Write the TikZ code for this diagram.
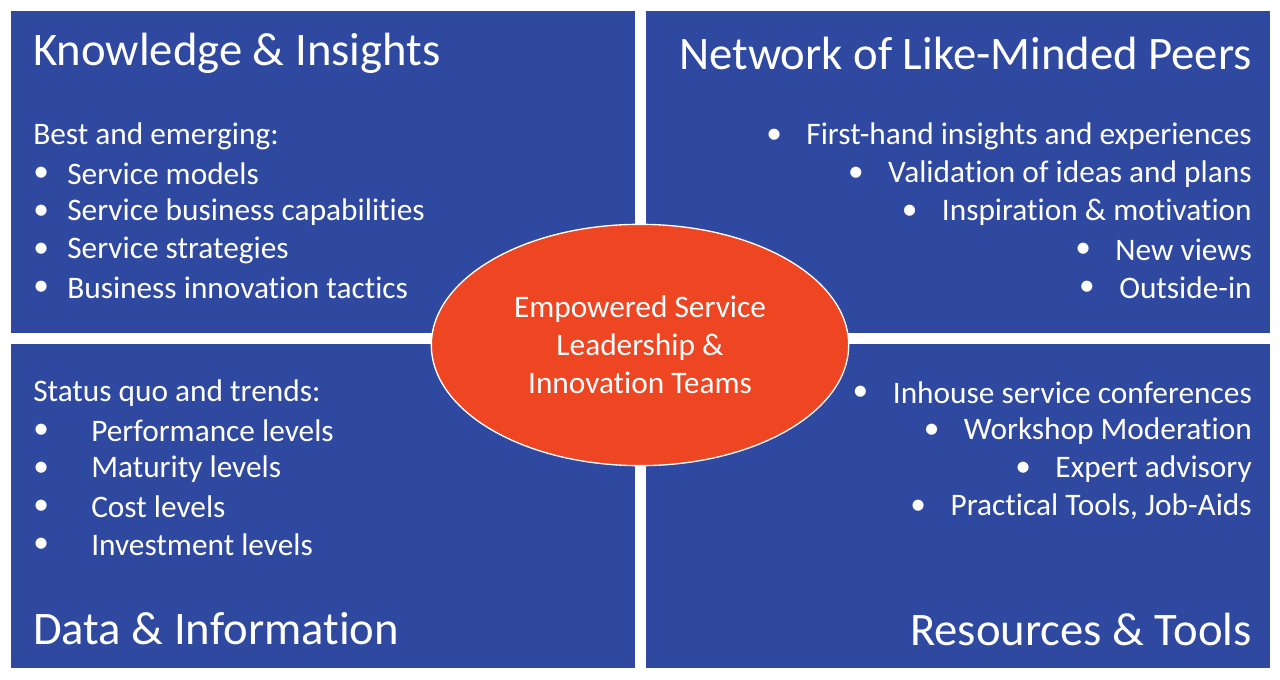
\documentclass[tikz,border=0pt]{standalone}
\usepackage{fontspec}
\setmainfont[Ligatures={NoCommon}]{Carlito}
\usetikzlibrary{shapes.geometric}
\definecolor{qblue}{HTML}{2F48A0}
\definecolor{qred}{HTML}{EE4522}
\begin{document}
\begin{tikzpicture}[x=0.75pt,y=-0.75pt,
  quad/.style={fill=qblue,draw=white,line width=0.8pt},
  ttl/.style={text=white,font=\fontsize{35}{40}\selectfont,inner sep=0pt},
  itm/.style={text=white,font=\fontsize{23.5}{28}\selectfont,inner sep=0pt}]
\useasboundingbox[fill=white] (0,0) rectangle (1280,680);
\path[quad] (10,10) rectangle (636,334);
\path[quad] (645,10) rectangle (1271,334);
\path[quad] (10,343) rectangle (636,669);
\path[quad] (645,343) rectangle (1271,669);
% titles
\node[ttl,anchor=west] (t1) at (33,53) {Knowledge \& Insights};
\node[ttl,anchor=east] (t2) at (1252,53) {Network of Like-Minded Peers};
\node[ttl,anchor=west] (t3) at (33,629) {Data \& Information};
\node[ttl,anchor=east] (t4) at (1252,629) {Resources \& Tools};
% TL
\node[itm,anchor=west] (a0) at (33,136) {Best and emerging:};
\foreach \t [count=\i] in {Service models,Service business capabilities,Service strategies,Business innovation tactics}{
  \node[itm,anchor=west] (ab\i) at (33,136+38*\i) {•};
  \node[itm,anchor=west] (a\i) at (67,136+38*\i) {\t};
}
% BL
\node[itm,anchor=west] (b0) at (33,393) {Status quo and trends:};
\foreach \t [count=\i] in {Performance levels,Maturity levels,Cost levels,Investment levels}{
  \node[itm,anchor=west] (bb\i) at (33,393+38*\i) {•};
  \node[itm,anchor=west] (b\i) at (91,393+38*\i) {\t};
}
% TR
\foreach \t [count=\i] in {First-hand insights and experiences,Validation of ideas and plans,Inspiration \& motivation,New views,Outside-in}{
  \node[itm,anchor=east] (c\i) at (1252,98+38*\i) {\t};
  \node[itm,anchor=east] (cb\i) at ([xshift=-18]c\i.west) {•};
}
% BR
\foreach \t [count=\i] in {Inhouse service conferences,Workshop Moderation,Expert advisory,{Practical Tools, Job-Aids}}{
  \node[itm,anchor=east] (d\i) at (1252,355+38*\i) {\t};
  \node[itm,anchor=east] (db\i) at ([xshift=-18]d\i.west) {•};
}
% center
\node[ellipse,fill=qred,draw=white,line width=1pt,minimum width=313pt,minimum height=181pt,
  text=white,align=center,font=\fontsize{23.5}{28.5}\selectfont,inner sep=0pt] (e) at (640,345)
  {Empowered Service\\Leadership \&\\Innovation Teams};
\end{tikzpicture}
\end{document}
